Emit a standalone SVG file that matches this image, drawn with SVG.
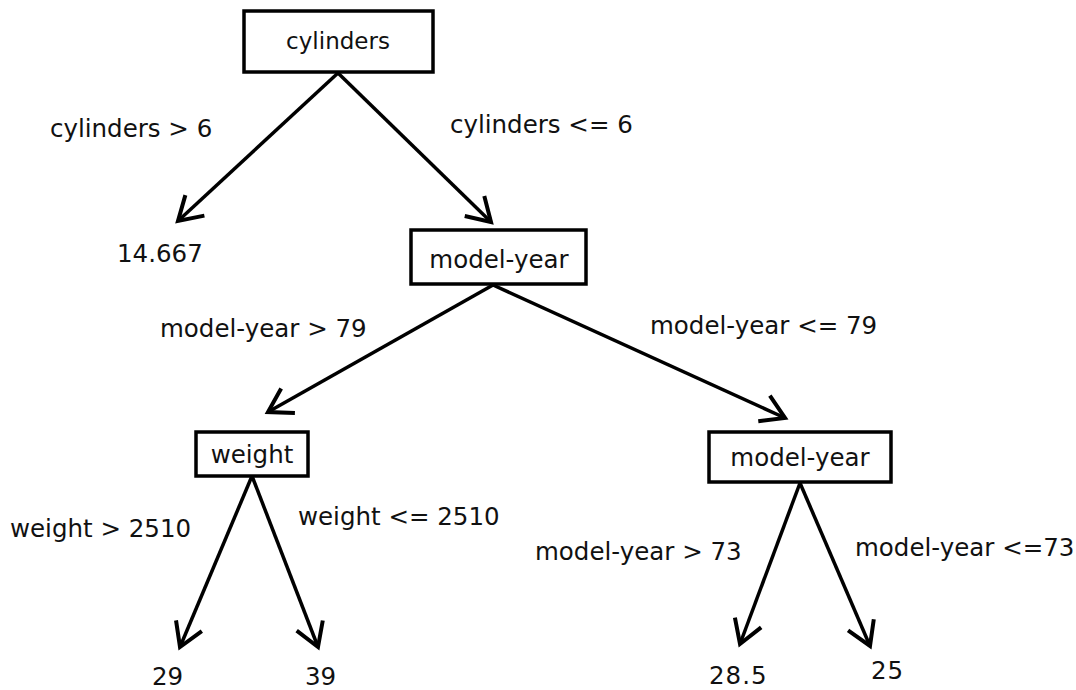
<svg xmlns="http://www.w3.org/2000/svg" width="1076" height="690" viewBox="0 0 1076 690">
<style>
text{font-family:"DejaVu Sans",sans-serif;font-size:24.5px;fill:#111}
.box{fill:#fff;stroke:#000;stroke-width:3.5}
.c{text-anchor:middle}
.e{stroke:#000;stroke-width:3.5;fill:none}
</style>
<defs>
<marker id="ah" markerUnits="userSpaceOnUse" markerWidth="36" markerHeight="36" refX="0" refY="0" viewBox="-30 -18 36 36" orient="auto">
<path d="M-23,-14 L0,0 L-23,14" fill="none" stroke="#000" stroke-width="4" stroke-linejoin="miter"/>
</marker>
</defs>
<rect width="1076" height="690" fill="#fff"/>
<g id="connectors">
<line class="e" x1="338" y1="73" x2="178" y2="221" marker-end="url(#ah)"/>
<line class="e" x1="338" y1="73" x2="491" y2="222" marker-end="url(#ah)"/>
<line class="e" x1="493" y1="285" x2="268" y2="412" marker-end="url(#ah)"/>
<line class="e" x1="493" y1="285" x2="785" y2="418" marker-end="url(#ah)"/>
<line class="e" x1="252" y1="476" x2="180" y2="647" marker-end="url(#ah)"/>
<line class="e" x1="252" y1="476" x2="318" y2="647" marker-end="url(#ah)"/>
<line class="e" x1="800" y1="483" x2="740" y2="644" marker-end="url(#ah)"/>
<line class="e" x1="800" y1="483" x2="870" y2="646" marker-end="url(#ah)"/>
<text x="50" y="137">cylinders &gt; 6</text>
<text x="450" y="133">cylinders &lt;= 6</text>
<text x="160" y="337">model-year &gt; 79</text>
<text x="650" y="334">model-year &lt;= 79</text>
<text x="10" y="537">weight &gt; 2510</text>
<text x="298" y="525">weight &lt;= 2510</text>
<text x="535" y="560">model-year &gt; 73</text>
<text x="855" y="556">model-year &lt;=73</text>
</g>
<g id="n-cylinders"><rect class="box" x="244" y="11" width="189" height="61"/><text class="c" x="338" y="49" style="font-size:23px">cylinders</text></g>
<g id="n-leaf1"><text x="117" y="262">14.667</text></g>
<g id="n-modelyear1"><rect class="box" x="411" y="230" width="175" height="54"/><text class="c" x="499" y="268">model-year</text></g>
<g id="n-weight"><rect class="box" x="196" y="432" width="112" height="44"/><text class="c" x="252" y="463">weight</text></g>
<g id="n-modelyear2"><rect class="box" x="709" y="432" width="182" height="50"/><text class="c" x="800" y="466">model-year</text></g>
<g id="n-29"><text x="152" y="685">29</text></g>
<g id="n-39"><text x="305" y="685">39</text></g>
<g id="n-285"><text x="709" y="684" style="letter-spacing:1px">28.5</text></g>
<g id="n-25"><text x="871" y="679" style="letter-spacing:1px">25</text></g>
</svg>
